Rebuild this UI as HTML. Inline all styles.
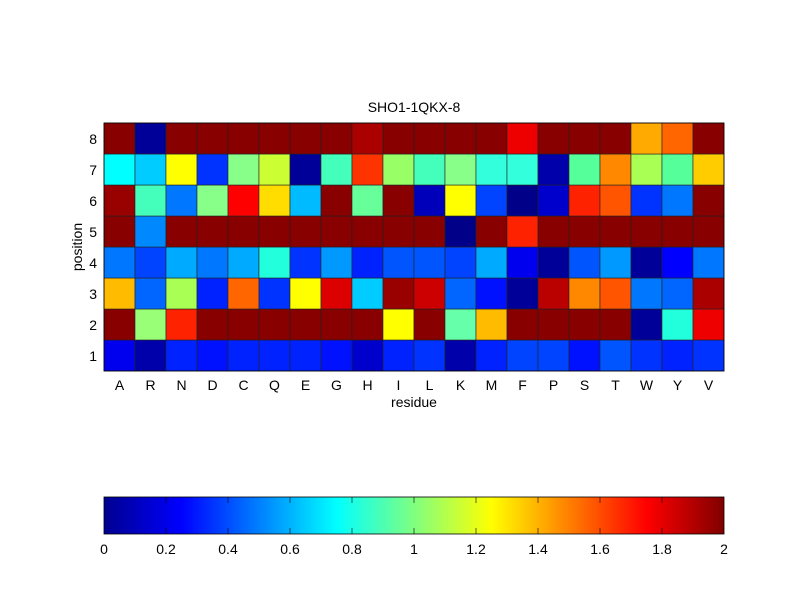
<!DOCTYPE html>
<html><head><meta charset="utf-8"><style>body{margin:0;background:#fff}svg{display:block}text{font-family:"Liberation Sans",sans-serif;font-size:14px;fill:#000}</style></head><body>
<svg width="800" height="600" xmlns="http://www.w3.org/2000/svg">
<defs><linearGradient id="jet" x1="0" x2="1" y1="0" y2="0">
<stop offset="0" stop-color="#00008f"/><stop offset="0.125" stop-color="#0000ff"/><stop offset="0.375" stop-color="#00ffff"/><stop offset="0.625" stop-color="#ffff00"/><stop offset="0.875" stop-color="#ff0000"/><stop offset="1" stop-color="#800000"/></linearGradient></defs>
<g id="cells" stroke="#222" stroke-width="0.6"></g>
<rect x="104" y="123" width="620" height="248" fill="none" stroke="#000" stroke-width="0.8"/>
<text x="414" y="112" text-anchor="middle">SHO1-1QKX-8</text>
<g id="lab"></g>
<text x="414" y="407" text-anchor="middle">residue</text>
<text transform="translate(82,247) rotate(-90)" text-anchor="middle">position</text>
<rect x="104" y="497" width="620" height="37" fill="url(#jet)" stroke="#000" stroke-width="0.8"/>
<g id="cb"></g>
</svg>
<script>
var rows={
8:"800 009 800 800 800 800 800 800 a00 800 800 800 800 e00 800 800 800 fa0 f60 800",
7:"0ff 0cf ff0 03f 8f8 cf3 009 4fb f30 9f6 4fb 8f8 3fd 3fd 00a 5f9 f80 af5 5f9 fc0",
6:"900 4fb 07f 8f8 f00 fd0 0bf 800 6f9 800 00b ff0 04f 008 00c f20 f50 03f 07f 800",
5:"800 08f 800 800 800 800 800 800 800 800 800 008 800 f20 800 800 800 800 800 800",
4:"07f 04f 0af 07f 0af 2fd 03f 09f 02f 05f 05f 04f 0af 00e 009 05f 09f 009 00f 07f",
3:"fb0 06f af5 02f f60 03f ff0 d00 0cf 900 c00 06f 01f 009 b00 f80 f50 07f 06f a00",
2:"800 9f7 f20 800 800 800 800 800 800 ff0 800 6fa fb0 800 800 800 800 009 2fd e00",
1:"00e 00a 02f 01f 02f 02f 02f 01f 00c 02f 03f 00a 02f 04f 04f 01f 05f 03f 02f 03f"};
var ns="http://www.w3.org/2000/svg",g=document.getElementById("cells"),lab=document.getElementById("lab");
function el(p,t,a,txt){var e=document.createElementNS(ns,t);for(var k in a)e.setAttribute(k,a[k]);if(txt!==undefined)e.textContent=txt;p.appendChild(e);return e;}
for(var r=1;r<=8;r++){var c=rows[r].split(" ");var y=123+(8-r)*31;
for(var i=0;i<20;i++)el(g,"rect",{x:104+i*31,y:y,width:31,height:31,fill:"#"+c[i]});
el(lab,"text",{x:97,y:y+21,"text-anchor":"end"},r);}
var res="ARNDCQEGHILKMFPSTWYV";
for(var i=0;i<20;i++)el(lab,"text",{x:119.5+i*31,y:390,"text-anchor":"middle"},res[i]);
var cb=document.getElementById("cb"),t=["0","0.2","0.4","0.6","0.8","1","1.2","1.4","1.6","1.8","2"];
for(var k=0;k<11;k++){var x=104+62*k;el(cb,"text",{x:x,y:554,"text-anchor":"middle"},t[k]);
if(k>0&&k<10){el(cb,"line",{x1:x,x2:x,y1:497,y2:503,stroke:"#000","stroke-width":0.6});el(cb,"line",{x1:x,x2:x,y1:528,y2:534,stroke:"#000","stroke-width":0.6});}}
</script>
</body></html>
